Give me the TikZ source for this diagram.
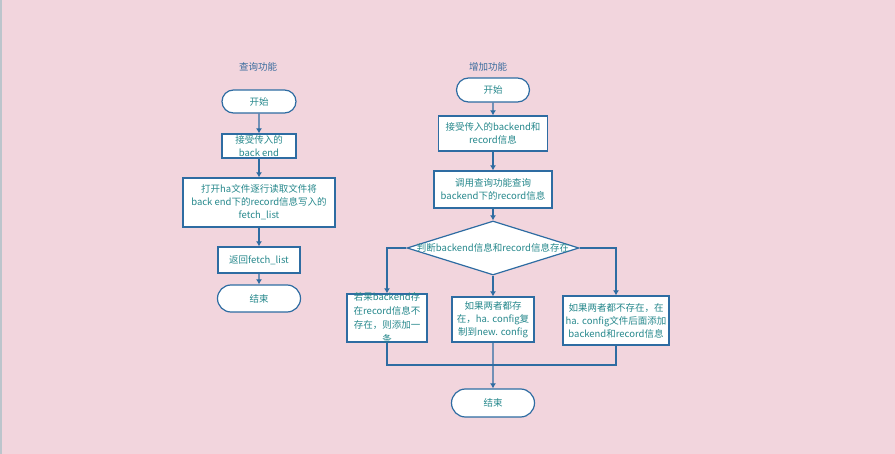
\documentclass[tikz,border=0pt]{standalone}
\usepackage{fontspec}
\setmainfont{Noto Sans CJK SC}
\usetikzlibrary{shapes.geometric,shapes.misc,arrows.meta}

\begin{document}
\begin{tikzpicture}[
        x=1pt,y=-1pt,
        every node/.style={font=\fontsize{9.5}{13}\selectfont,text=txt},
        flowbox/.style={draw=lin,fill=white,line width=1.2pt,inner sep=0pt,align=center},
        term/.style={flowbox,rounded rectangle},
        arr/.style={draw=lin,line width=1.2pt,-{Latex[length=5pt,width=6pt]}},
        lnk/.style={draw=lin,line width=1.2pt}
    ]
    \definecolor{bgp}{RGB}{242,213,221}
    \definecolor{edg}{RGB}{188,197,204}
    \definecolor{lin}{RGB}{46,108,162}
    \definecolor{txt}{RGB}{38,136,140}
    \definecolor{ttl}{RGB}{58,108,158}

    \fill [bgp] (0,0) rectangle (895,454);
    \fill [edg] (0,0) rectangle (2,454);
    \useasboundingbox (0,0) rectangle (895,454);

    \node (q_title) [text=ttl]                                       at (258,67)    {查询功能};
    \node (q_start) [term,minimum width=74pt,minimum height=23pt]    at (259,101.5) {开始};
    \node (q_recv)  [flowbox,minimum width=74pt,minimum height=24pt] at (259,146)   {接受传入的\\back end};
    \node (q_open)  [flowbox,minimum width=152pt,minimum height=49pt] at (259,202.5) {打开ha文件逐行读取文件将\\back end下的record信息写入的\\fetch\_list};
    \node (q_ret)   [flowbox,minimum width=82pt,minimum height=26pt] at (259,260)   {返回fetch\_list};
    \node (q_end)   [term,minimum width=83pt,minimum height=27pt]    at (259,298.5) {结束};

    \node (a_title) [text=ttl]                                        at (488,67)    {增加功能};
    \node (a_start) [term,minimum width=73pt,minimum height=24pt]     at (493,90)    {开始};
    \node (a_recv)  [flowbox,minimum width=109pt,minimum height=35pt] at (493,133.5) {接受传入的backend和\\record信息};
    \node (a_query) [flowbox,minimum width=118pt,minimum height=37pt] at (493,189.5) {调用查询功能查询\\backend下的record信息};
    \node (a_judge) [diamond,draw=lin,fill=white,line width=1.2pt,inner sep=0pt,
                     minimum width=172pt,minimum height=54pt,
                     label=center:{判断backend信息和record信息存在}] at (493,248) {};
    \node (a_yes)   [flowbox,minimum width=80pt,minimum height=48pt,
                     label={[align=center,font=\fontsize{9.5}{14}\selectfont]center:若果backend存\\在record信息不\\存在，则添加一\\条}] at (387,318) {};
    \node (a_both)  [flowbox,minimum width=82pt,minimum height=45pt]  at (493,319.5) {如果两者都存\\在，ha. config复\\制到new. config};
    \node (a_no)    [flowbox,minimum width=106pt,minimum height=49pt] at (616,320.5) {如果两者都不存在，在\\ha. config文件后面添加\\backend和record信息};
    \coordinate (a_merge) at (493,365);
    \node (a_end)   [term,minimum width=83pt,minimum height=28pt]     at (493,403)   {结束};

    \draw [arr] (q_start) -- (q_recv);
    \draw [arr] (q_recv)  -- (q_open);
    \draw [arr] (q_open)  -- (q_ret);
    \draw [arr] (q_ret)   -- (q_end);

    \draw [arr] (a_start) -- (a_recv);
    \draw [arr] (a_recv)  -- (a_query);
    \draw [arr] (a_query) -- (a_judge);
    \draw [arr] (a_judge.west) -| (a_yes);
    \draw [arr] (a_judge.east) -| (a_no);
    \draw [arr] (a_judge) -- (a_both);
    \draw [lnk] (a_yes)   |- (a_merge);
    \draw [lnk] (a_no)    |- (a_merge);
    \draw [arr] (a_both)  -- (a_end);
\end{tikzpicture}
\end{document}
